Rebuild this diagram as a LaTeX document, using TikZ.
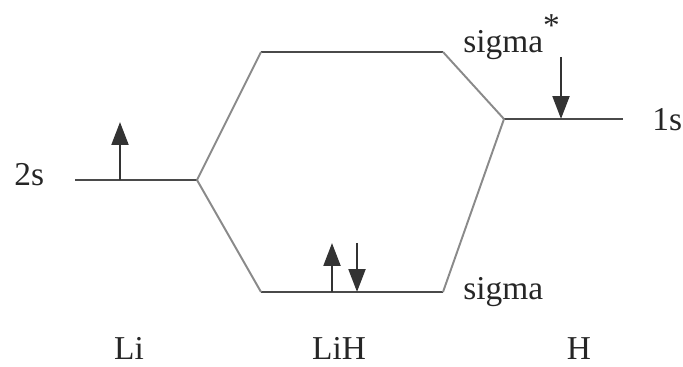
\documentclass[tikz,border=0pt]{standalone}
\usepackage{fontspec}
\setmainfont{Liberation Serif}
\usepackage{xcolor}
\usetikzlibrary{arrows.meta}

\definecolor{levelgray}{HTML}{4A4A4A}
\definecolor{linkgray}{HTML}{8A8A8A}
\definecolor{spingray}{HTML}{333333}

\begin{document}
\begin{tikzpicture}[x=0.02cm,y=-0.02cm,
  level/.style={draw=levelgray,line width=1.7pt},
  link/.style={draw=linkgray,line width=1.1pt},
  spin/.style={draw=spingray,line width=1.6pt,-{Triangle[length=13pt,width=9.5pt]}},
  lbl/.style={font=\fontsize{19}{22}\selectfont,text=black!85,inner sep=0pt}]
\useasboundingbox (0,0) rectangle (683,367);
% energy levels
\coordinate (liL) at (75,180);  \coordinate (liR) at (197,180);
\coordinate (asL) at (261,52);  \coordinate (asR) at (443,52);
\coordinate (bsL) at (261,292); \coordinate (bsR) at (443,292);
\coordinate (hL) at (504,119);  \coordinate (hR) at (623,119);
\draw[level] (liL) -- (liR);
\draw[level] (asL) -- (asR);
\draw[level] (bsL) -- (bsR);
\draw[level] (hL) -- (hR);
% correlation lines
\draw[link] (liR) -- (asL);
\draw[link] (liR) -- (bsL);
\draw[link] (asR) -- (hL);
\draw[link] (hL) -- (bsR);
% electrons
\coordinate (liTop) at (120,122);
\coordinate (hTop) at (561,57);
\draw[spin] (120,180) coordinate (liBase) -- (liTop);
\draw[spin] (hTop) -- (561,119) coordinate (hBase);
\foreach \x/\nm in {332/up,357/dn}{
  \coordinate (bs\nm Bot) at (\x,292);
  \coordinate (bs\nm Top) at (\x,243);
}
\draw[spin] (bsupBot) -- (bsupTop);
\draw[spin] (bsdnTop) -- (bsdnBot);
% labels
\node[lbl,anchor=base west] (twos) at (14,186) {2s};
\node[lbl,anchor=base west] (ones) at (652,131) {1s};
\node[lbl,anchor=base west] (sigstar) at (463,53) {sigma\raisebox{1.1ex}{*}};
\node[lbl,anchor=base west] (sig) at (463,300) {sigma};
\foreach \x/\nm/\txt in {129/li/Li,339/lih/LiH,579/h/H}{
  \node[lbl,anchor=base] (lab\nm) at (\x,360) {\txt};
}
\end{tikzpicture}
\end{document}
